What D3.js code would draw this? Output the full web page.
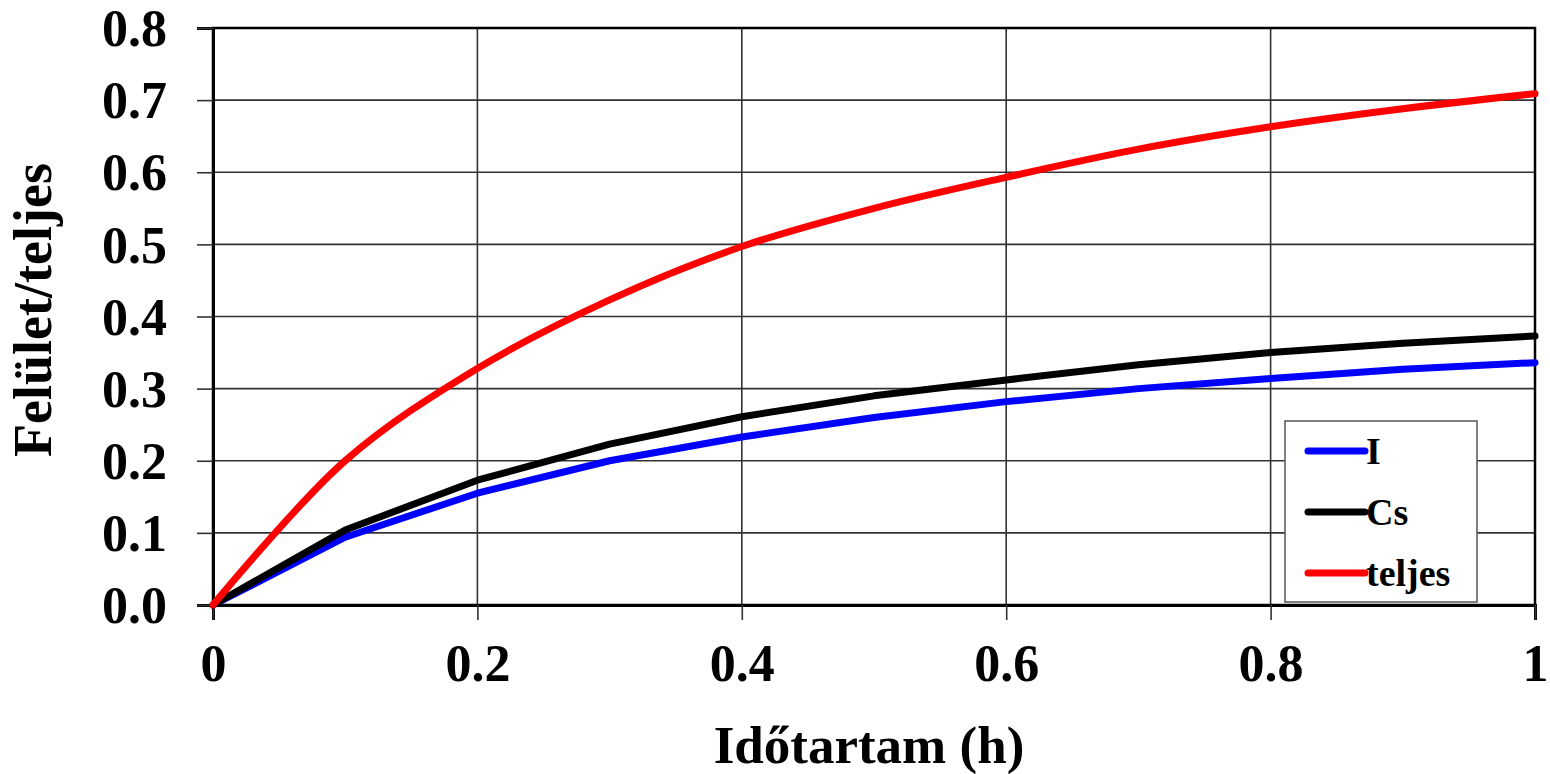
<!DOCTYPE html>
<html>
<head>
<meta charset="utf-8">
<script src="https://d3js.org/d3.v7.min.js"></script>
<style>
  html, body { margin: 0; padding: 0; background: #fff; }
  svg { display: block; }
</style>
</head>
<body>
<svg id="chart" width="1550" height="774"></svg>
<script>
// time (h) and the three series
const hours = [0, 0.1, 0.2, 0.3, 0.4, 0.5, 0.6, 0.7, 0.8, 0.9, 1.0];
const seriesI = [0, 0.094, 0.155, 0.2, 0.233, 0.26, 0.282, 0.3, 0.314, 0.327, 0.336];
const seriesCs = [0, 0.104, 0.173, 0.223, 0.261, 0.29, 0.312, 0.333, 0.35, 0.363, 0.373];
const seriesTeljes = [0, 0.2, 0.328, 0.423, 0.497, 0.55, 0.593, 0.632, 0.663, 0.688, 0.709];

const xTicks = [0, 0.2, 0.4, 0.6, 0.8, 1];
const yTicks = [0, 0.1, 0.2, 0.3, 0.4, 0.5, 0.6, 0.7, 0.8];

const series = [
  { name: "I", values: seriesI, colour: "#0000ff", curve: d3.curveLinear },
  { name: "Cs", values: seriesCs, colour: "#000000", curve: d3.curveLinear },
  { name: "teljes", values: seriesTeljes, colour: "#ff0000", curve: d3.curveCatmullRom },
];

const font = "'Liberation Serif', 'Times New Roman', serif";
const margin = { left: 213, right: 15, top: 28, bottom: 169 };
const width = 1550, height = 774;

const svg = d3.select("#chart");

const x = d3.scaleLinear().domain([0, 1]).range([margin.left, width - margin.right]);
const y = d3.scaleLinear().domain([0, 0.8]).range([height - margin.bottom, margin.top]);

// grid
const grid = svg.append("g").attr("stroke", "#333").attr("stroke-width", 1.6);
grid.selectAll("line.gx")
  .data(xTicks.slice(1, -1))
  .join("line")
  .attr("x1", (d) => x(d)).attr("x2", (d) => x(d))
  .attr("y1", y(0.8)).attr("y2", y(0));
grid.selectAll("line.gy")
  .data(yTicks.slice(1, -1))
  .join("line")
  .attr("x1", x(0)).attr("x2", x(1))
  .attr("y1", (d) => y(d)).attr("y2", (d) => y(d));

// frame
svg.append("rect")
  .attr("x", x(0)).attr("y", y(0.8))
  .attr("width", x(1) - x(0)).attr("height", y(0) - y(0.8))
  .attr("fill", "none").attr("stroke", "#000").attr("stroke-width", 2.5);

// axes
const xAxis = svg.append("g")
  .attr("transform", `translate(0,${y(0)})`)
  .call(d3.axisBottom(x).tickValues(xTicks).tickSize(15).tickPadding(26)
    .tickFormat((d) => d === 0 ? "0" : d === 1 ? "1" : d3.format(".1f")(d)));
const yAxis = svg.append("g")
  .attr("transform", `translate(${x(0)},0)`)
  .call(d3.axisLeft(y).tickValues(yTicks).tickSize(16).tickPadding(30)
    .tickFormat(d3.format(".1f")));

[xAxis, yAxis].forEach((ax) => {
  ax.select(".domain").attr("stroke", "#000").attr("stroke-width", 3);
  ax.selectAll(".tick line").attr("stroke", "#333").attr("stroke-width", 1.6);
  ax.selectAll(".tick text")
    .attr("fill", "#000")
    .style("font-family", font)
    .style("font-weight", "bold")
    .style("font-size", "52px");
});
xAxis.selectAll(".tick text").attr("dy", "0.68em");
yAxis.selectAll(".tick text").attr("dy", "0.34em");

// lines
const line = (s) => d3.line()
  .x((d, i) => x(hours[i]))
  .y((d) => y(d))
  .curve(s.curve)(s.values);

svg.append("g")
  .selectAll("path")
  .data(series)
  .join("path")
  .attr("d", line)
  .attr("fill", "none")
  .attr("stroke", (d) => d.colour)
  .attr("stroke-width", 7)
  .attr("stroke-linejoin", "round")
  .attr("stroke-linecap", "round");

// axis titles
svg.append("text")
  .attr("x", 869)
  .attr("y", 763)
  .attr("text-anchor", "middle")
  .style("font-family", font)
  .style("font-weight", "bold")
  .style("font-size", "53px")
  .text("Időtartam (h)");

svg.append("text")
  .attr("transform", "translate(51,310) rotate(-90)")
  .attr("text-anchor", "middle")
  .style("font-family", font)
  .style("font-weight", "bold")
  .style("font-size", "54px")
  .text("Felület/teljes");

// legend
const legend = svg.append("g").attr("transform", "translate(1285,421)");
legend.append("rect")
  .attr("width", 192).attr("height", 181)
  .attr("fill", "#fff").attr("stroke", "#555").attr("stroke-width", 1.5);
const item = legend.selectAll("g.item")
  .data(series)
  .join("g")
  .attr("transform", (d, i) => `translate(0,${30 + i * 61})`);
item.append("line")
  .attr("x1", 23).attr("x2", 80)
  .attr("stroke", (d) => d.colour)
  .attr("stroke-width", 7)
  .attr("stroke-linecap", "round");
item.append("text")
  .attr("x", 81)
  .attr("dy", "0.35em")
  .style("font-family", font)
  .style("font-weight", "bold")
  .style("font-size", "38px")
  .text((d) => d.name);
</script>
</body>
</html>
